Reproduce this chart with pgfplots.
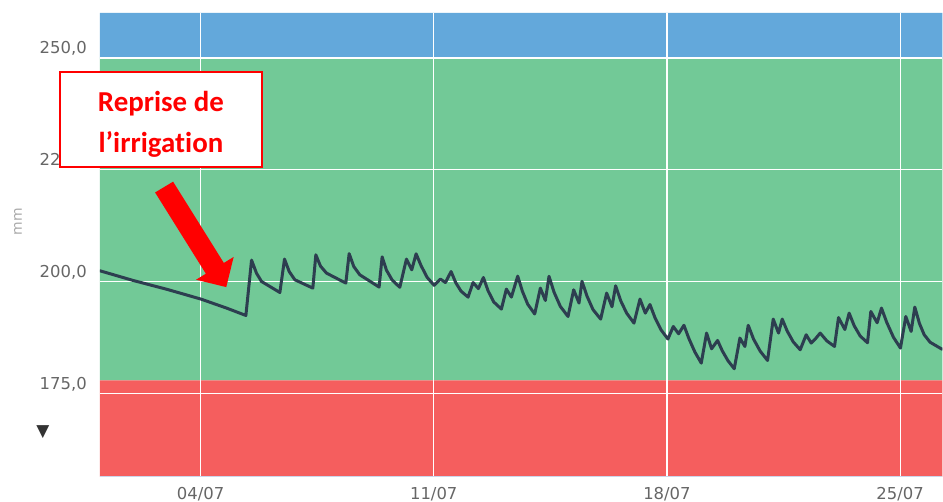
\documentclass[border=0pt]{standalone}
\usepackage{fontspec}
\setmainfont{DejaVu Sans}
\newfontfamily\calib[Ligatures=NoCommon]{Carlito}
\usepackage{pgfplots}
\pgfplotsset{compat=1.18}
\definecolor{bandblue}{RGB}{99,168,219}
\definecolor{bandgreen}{RGB}{114,201,151}
\definecolor{bandred}{RGB}{245,94,94}
\definecolor{linecol}{RGB}{45,62,80}
\definecolor{labgray}{RGB}{102,102,102}
\definecolor{mmgray}{RGB}{170,170,170}
\definecolor{annred}{RGB}{255,0,0}
\begin{document}
\begin{tikzpicture}
\path (0,0) rectangle (943bp,502bp);
\begin{axis}[
  at={(100bp,25bp)}, anchor=south west,
  scale only axis, width=843bp, height=464bp,
  set layers=standard,
  xmin=0.979, xmax=26.269, ymin=156.47, ymax=260.04,
  axis line style={draw=none},
  major tick length=0pt,
  xtick={4,11,18,25},
  xticklabels={04/07,11/07,18/07,25/07},
  ytick={175,200,225,250},
  yticklabels={{175,0},{200,0},{225,0},{250,0}},
  grid=major,
  grid style={white, line width=1.2bp},
  xticklabel style={anchor=north, inner sep=0pt, yshift=-10bp, text=labgray, font=\fontsize{16.5}{19}\selectfont},
  yticklabel style={anchor=east, inner sep=0pt, xshift=-13bp, yshift=9.5bp, text=labgray, font=\fontsize{16.5}{19}\selectfont},
]
\addplot[on layer=axis background, draw=none, fill=bandblue] coordinates {(0.979,250) (26.269,250) (26.269,260.04) (0.979,260.04) (0.979,250)};
\addplot[on layer=axis background, draw=none, fill=bandgreen] coordinates {(0.979,178) (26.269,178) (26.269,250) (0.979,250) (0.979,178)};
\addplot[on layer=axis background, draw=none, fill=bandred] coordinates {(0.979,156.47) (26.269,156.47) (26.269,178) (0.979,178) (0.979,156.47)};
\addplot[linecol, line width=3bp, line join=round, line cap=round, mark=none] coordinates {
(0.98,202.46) (1.98,200.29) (3.0,198.3) (4.01,196.14) (4.78,194.13) (5.36,192.48)
(5.53,204.84) (5.68,201.9) (5.83,200.07) (6.38,197.61)
(6.52,205.07) (6.66,202.3) (6.83,200.45) (7.37,198.59)
(7.46,206.03) (7.60,203.5) (7.78,201.94) (8.36,199.71)
(8.46,206.29) (8.60,203.4) (8.78,201.56) (9.36,198.82)
(9.45,205.58) (9.58,202.6) (9.75,200.4) (9.98,198.77)
(10.18,205.07) (10.34,202.68) (10.47,206.25) (10.62,203.6) (10.80,201.0) (11.01,199.22)
(11.20,200.60) (11.35,199.84) (11.52,202.30) (11.66,199.8) (11.82,197.9) (12.03,196.58)
(12.18,199.84) (12.34,198.48) (12.49,200.96) (12.63,198.0) (12.80,195.5) (13.03,193.91)
(13.18,198.37) (13.33,196.58) (13.52,201.27) (13.66,197.9) (13.82,195.0) (14.03,192.81)
(14.20,198.59) (14.35,195.83) (14.46,201.23) (14.61,197.7) (14.80,194.5) (15.03,192.25)
(15.20,198.21) (15.36,195.25) (15.45,200.11) (15.60,196.8) (15.78,193.8) (16.01,191.67)
(16.19,197.48) (16.35,194.42) (16.46,199.11) (16.61,195.8) (16.79,193.0) (17.01,190.78)
(17.19,196.14) (17.35,193.01) (17.49,194.93) (17.64,192.0) (17.82,189.3) (18.03,187.21)
(18.19,190.02) (18.35,188.39) (18.51,190.29) (18.66,187.3) (18.84,184.3) (19.03,181.85)
(19.19,188.55) (19.34,185.04) (19.52,186.90) (19.66,184.6) (19.83,182.4) (20.02,180.58)
(20.19,187.43) (20.34,185.56) (20.44,190.29) (20.60,187.2) (20.80,184.5) (21.02,182.43)
(21.19,191.67) (21.35,188.55) (21.46,191.67) (21.61,189.0) (21.79,186.6) (22.00,184.82)
(22.18,188.17) (22.33,186.32) (22.45,187.2) (22.60,188.55) (22.80,186.8) (23.03,185.56)
(23.15,192.01) (23.34,189.35) (23.47,193.01) (23.62,190.2) (23.80,187.9) (24.02,186.38)
(24.12,193.37) (24.31,190.85) (24.44,194.13) (24.60,190.9) (24.80,187.6) (25.01,185.20)
(25.17,192.25) (25.33,188.91) (25.44,194.35) (25.58,190.7) (25.72,188.2) (25.90,186.5) (26.26,184.93)
};
\end{axis}
\draw[color={rgb,255:red,204;green,214;blue,235}, line width=1bp] (100bp,25bp) -- (943bp,25bp);
\node[rotate=90, text=mmgray, font=\fontsize{14}{16}\selectfont] at (18bp,280bp) {mm};
\node[text={rgb,255:red,51;green,51;blue,51}, font=\fontsize{17}{19}\selectfont, inner sep=0pt] at (43bp,70bp) {▼};
\draw[annred, line width=2bp, fill=white] (60bp,335.3bp) rectangle (261.7bp,430.3bp);
\node[text=annred, font=\calib\bfseries\fontsize{29}{41}\selectfont, align=center] at (161bp,378bp) {Reprise de\\l’irrigation};
\fill[annred] (155.2bp,309.4bp) -- (173.2bp,320.2bp) -- (224bp,238.9bp) -- (233.8bp,244.9bp) -- (226.4bp,214.7bp) -- (196.2bp,222.1bp) -- (206bp,228.1bp) -- cycle;
\end{tikzpicture}
\end{document}
